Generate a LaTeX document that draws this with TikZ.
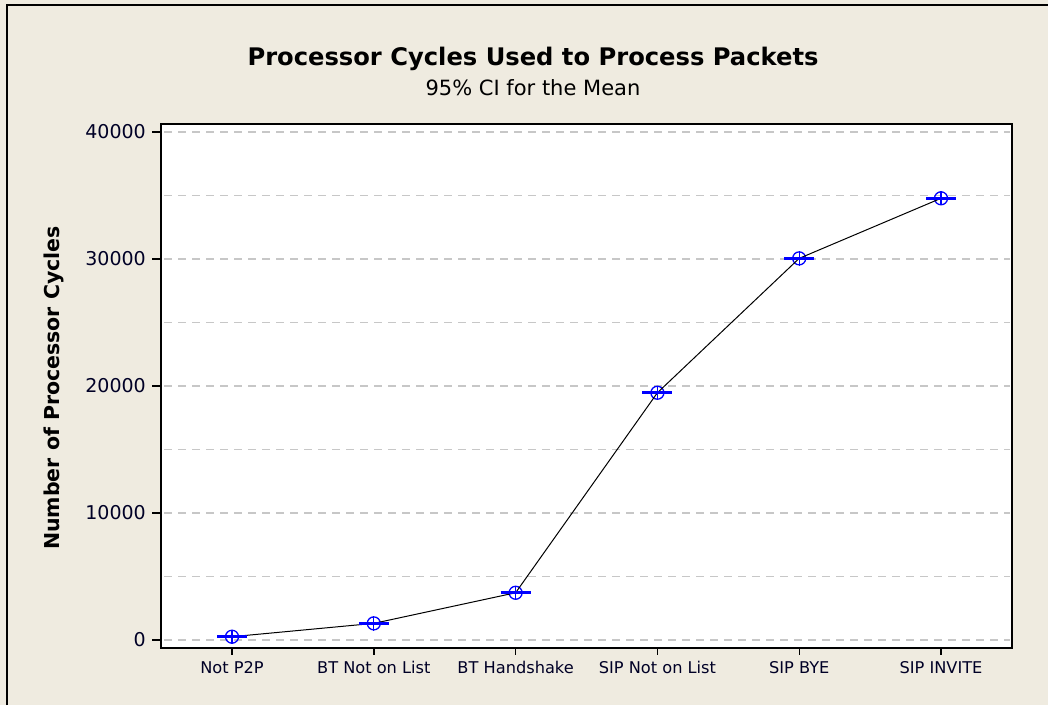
\documentclass[tikz,border=0pt]{standalone}
\usepackage{fontspec}
\setmainfont{DejaVu Sans}
\begin{document}
\begin{tikzpicture}[x=1pt,y=-1pt,
  grid/.style={draw=black!22,line width=1.2pt,dash pattern=on 8pt off 6pt},
  frameline/.style={draw=black,line width=1.8pt},
  ticklabel/.style={anchor=east,inner sep=0pt,font=\fontsize{19}{22}\selectfont,text=black!85!blue},
  catlabel/.style={anchor=base,inner sep=0pt,font=\fontsize{16.2}{19}\selectfont,text=black!85!blue},
  cimark/.style={circle,draw=blue,line width=1.3pt,minimum size=13pt,inner sep=0pt},
  cibar/.style={draw=blue,line width=2.6pt},
  meanline/.style={draw=black,line width=1pt}]
  \definecolor{panel}{RGB}{239,235,224}
  \useasboundingbox (0,0) rectangle (1048,705);
  \fill[panel] (0,0) rectangle (1048,705);
  % outer border of the graph window
  \draw[black,line width=2pt] (7,705) -- (7,5) -- (1048,5);

  % titles
  \node[anchor=base,inner sep=0pt,font=\bfseries\fontsize{24.2}{28}\selectfont] (title) at (533,65) {Processor Cycles Used to Process Packets};
  \node[anchor=base,inner sep=0pt,font=\fontsize{21}{24}\selectfont] (subtitle) at (533,95) {95\% CI for the Mean};
  \node[rotate=90,inner sep=0pt,font=\bfseries\fontsize{20.5}{24}\selectfont] (ylabel) at (54,388) {Number of Processor Cycles};

  % data area (values in thousands of cycles, 12.7pt per thousand)
  \fill[white] (161,124) rectangle (1012,648);
  \foreach \k in {0,5,...,40}
    \draw[grid] (164,{640-\k*12.7}) -- (1010,{640-\k*12.7});
  \draw[frameline] (161,124) rectangle (1012,648);

  % y axis ticks and labels
  \foreach \k/\lab in {0/0,10/10000,20/20000,30/30000,40/40000} {
    \draw[black,line width=1.4pt] (152,{640-\k*12.7}) -- (161,{640-\k*12.7});
    \node[ticklabel] (ytick\k) at (146,{640-\k*12.7}) {\lab};
  }

  % x axis ticks and category labels
  \foreach \i/\lab in {0/Not P2P,1/BT Not on List,2/BT Handshake,3/SIP Not on List,4/SIP BYE,5/SIP INVITE} {
    \draw[black,line width=1.4pt] ({232+141.8*\i},648) -- ({232+141.8*\i},655);
    \node[catlabel] (xlab\i) at ({232+141.8*\i},673) {\lab};
  }

  % mean markers
  \foreach \i/\k in {0/0.26,1/1.31,2/3.72,3/19.47,4/30.05,5/34.78}
    \node[cimark] (p\i) at ({232+141.8*\i},{640-\k*12.7}) {};

  % line joining the means
  \draw[meanline] (p0.center) -- (p1.center) -- (p2.center) -- (p3.center) -- (p4.center) -- (p5.center);

  % interval bars and crosses
  \foreach \i in {0,...,5} {
    \draw[cibar] ([xshift=-15pt]p\i.center) -- ([xshift=15pt]p\i.center);
    \draw[blue,line width=1.3pt] (p\i.north) -- (p\i.south);
    \draw[blue,line width=1.3pt] (p\i.west) -- (p\i.east);
  }
\end{tikzpicture}
\end{document}
